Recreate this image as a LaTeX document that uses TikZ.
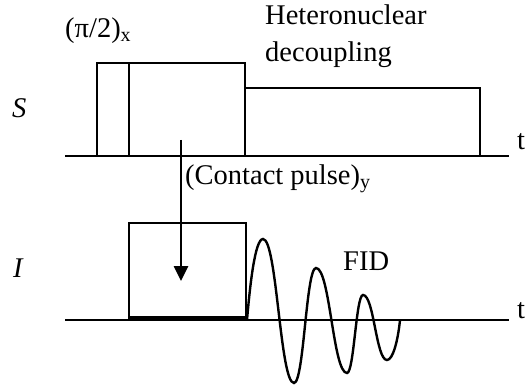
\documentclass[tikz,border=0pt]{standalone}
\usepackage{fontspec}
\setmainfont{Liberation Serif}
\usetikzlibrary{arrows.meta,positioning}
\tikzset{
  wire/.style  = {line width=2.7pt},
  pulse/.style = {line width=2.7pt, line join=miter},
  fid/.style   = {line width=2.4pt},
  vec/.style   = {-{Triangle[length=15pt,width=14pt]}, line width=2.6pt},
  lbl/.style   = {font=\fontsize{28.5}{32}\selectfont, inner sep=0pt, anchor=base west},
}
\begin{document}
\begin{tikzpicture}[x=1pt,y=-1pt]
  \useasboundingbox (0,0) rectangle (526,387);
  % S channel
  \draw[wire] (65,156) -- (509,156);
  \draw[pulse] (97,156) -- (97,63) -- (245,63) -- (245,156);
  \draw[pulse] (129,63) -- (129,156);
  \draw[pulse] (245,88) -- (480,88) -- (480,156);
  \node[lbl] (Slab) at (12,118) {\itshape S};
  \node[lbl] (tS) at (517,150) {t};
  \node[lbl] (pihalf) at (65,38) {(π/2)\textsubscript{x}};
  \node[lbl] (hetero) at (265,25) {Heteronuclear};
  \node[lbl] (decoup) at (265,62) {decoupling};
  % I channel
  \draw[wire] (65,320) -- (509,320);
  \draw[pulse] (129,320) rectangle (246,223);
  \draw[line width=5pt] (129,318.5) -- (246,318.5);
  \node[lbl] (Ilab) at (13,277) {\itshape I};
  \node[lbl] (tI) at (517,318) {t};
  \node[lbl] (fidlab) at (343,270) {FID};
  % FID
  \draw[fid] (247,320) .. controls (250,285) and (255,239) .. (263,239)
    .. controls (277,239) and (280,383) .. (294,383)
    .. controls (304,383) and (306,268) .. (316,268)
    .. controls (330,268) and (333,373) .. (347,373)
    .. controls (354,373) and (356,295) .. (363,295)
    .. controls (374,295) and (376,360) .. (387,360)
    .. controls (393,360) and (398,340) .. (400,320);
  % contact pulse transfer
  \coordinate (cptop) at (181,140);
  \coordinate (cptip) at (181,281);
  \draw[vec] (cptop) -- (cptip);
  \node[lbl] (contact) at (185,185) {(Contact pulse)\textsubscript{y}};
\end{tikzpicture}
\end{document}
